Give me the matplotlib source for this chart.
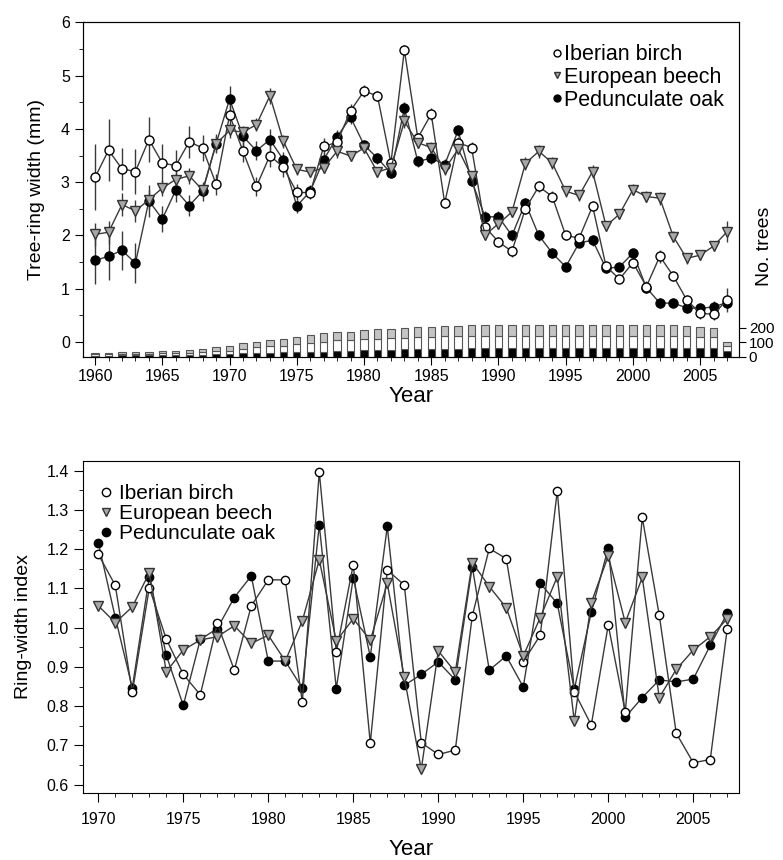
import numpy as np
import matplotlib
matplotlib.use('Agg')
import matplotlib.pyplot as plt
from matplotlib.lines import Line2D

plt.rcParams['font.family'] = ['Liberation Sans', 'DejaVu Sans']

# ---- top panel: raw ring widths (1960-2007) ----
years = np.arange(1960, 2008)

birch_rw = [3.09, 3.60, 3.25, 3.20, 3.80, 3.36, 3.31, 3.76, 3.64, 2.96,
            4.26, 3.58, 2.92, 3.50, 3.28, 2.81, 2.80, 3.67, 3.75, 4.34,
            4.71, 4.62, 3.36, 5.48, 3.83, 4.28, 2.61, 3.74, 3.65, 2.16,
            1.88, 1.70, 2.50, 2.92, 2.73, 2.00, 1.95, 2.55, 1.42, 1.18,
            1.49, 1.04, 1.61, 1.24, 0.79, 0.54, 0.52, 0.79]
beech_rw = [2.02, 2.06, 2.58, 2.46, 2.67, 2.89, 3.05, 3.12, 2.85, 3.72,
            3.97, 3.94, 4.08, 4.62, 3.77, 3.24, 3.19, 3.27, 3.58, 3.49,
            3.64, 3.19, 3.27, 4.14, 3.74, 3.65, 3.24, 3.62, 3.11, 2.01,
            2.22, 2.44, 3.35, 3.58, 3.36, 2.83, 2.75, 3.20, 2.18, 2.40,
            2.86, 2.73, 2.70, 1.98, 1.57, 1.63, 1.80, 2.07]
oak_rw = [1.53, 1.61, 1.72, 1.48, 2.65, 2.31, 2.85, 2.56, 2.83, 3.72,
          4.56, 3.86, 3.59, 3.80, 3.42, 2.55, 2.83, 3.42, 3.85, 4.22,
          3.70, 3.45, 3.17, 4.39, 3.39, 3.45, 3.33, 3.97, 3.03, 2.35,
          2.35, 2.00, 2.61, 2.00, 1.67, 1.41, 1.86, 1.91, 1.38, 1.41,
          1.67, 1.02, 0.73, 0.73, 0.64, 0.63, 0.66, 0.74]

birch_err = [0.62, 0.58, 0.40, 0.43, 0.42, 0.35, 0.30, 0.30, 0.25, 0.20,
             0.22, 0.20, 0.18, 0.22, 0.18, 0.15, 0.12, 0.15, 0.12, 0.12,
             0.12, 0.10, 0.12, 0.10, 0.10, 0.12, 0.10, 0.10, 0.10, 0.10,
             0.10, 0.10, 0.10, 0.10, 0.10, 0.08, 0.08, 0.10, 0.08, 0.08,
             0.10, 0.10, 0.12, 0.10, 0.10, 0.10, 0.10, 0.22]
beech_err = [0.22, 0.22, 0.22, 0.20, 0.18, 0.15, 0.15, 0.15, 0.12, 0.15,
             0.15, 0.12, 0.12, 0.15, 0.12, 0.10, 0.10, 0.10, 0.12, 0.10,
             0.10, 0.10, 0.10, 0.12, 0.10, 0.10, 0.10, 0.10, 0.10, 0.10,
             0.10, 0.10, 0.12, 0.12, 0.12, 0.10, 0.10, 0.12, 0.10, 0.10,
             0.10, 0.10, 0.12, 0.10, 0.10, 0.10, 0.10, 0.20]
oak_err = [0.45, 0.45, 0.37, 0.38, 0.30, 0.25, 0.22, 0.20, 0.18, 0.18,
           0.25, 0.18, 0.18, 0.20, 0.15, 0.12, 0.12, 0.12, 0.12, 0.12,
           0.10, 0.10, 0.10, 0.12, 0.10, 0.10, 0.10, 0.10, 0.10, 0.10,
           0.10, 0.10, 0.10, 0.10, 0.10, 0.08, 0.08, 0.10, 0.08, 0.08,
           0.10, 0.10, 0.10, 0.10, 0.10, 0.10, 0.10, 0.12]

# number of trees per year (stacked: oak, birch, beech)
oak_n = [9, 9, 11, 11, 12, 13, 13, 15, 16, 18,
         19, 25, 28, 30, 32, 34, 36, 37, 41, 42,
         45, 46, 48, 53, 55, 55, 57, 57, 60, 60,
         60, 60, 60, 60, 60, 60, 60, 60, 60, 60,
         60, 60, 60, 60, 60, 60, 58, 39]
birch_n = [8, 8, 10, 10, 11, 13, 13, 15, 17, 23,
           24, 28, 41, 42, 46, 52, 57, 67, 74, 75,
           78, 80, 81, 80, 83, 83, 86, 86, 85, 85,
           85, 85, 85, 85, 85, 85, 85, 85, 85, 85,
           85, 85, 85, 85, 83, 80, 76, 34]
beech_n = [8, 8, 11, 11, 14, 15, 15, 18, 22, 28,
           31, 41, 37, 41, 46, 52, 56, 61, 55, 58,
           61, 63, 66, 67, 69, 69, 73, 73, 76, 76,
           76, 76, 76, 76, 76, 76, 76, 76, 76, 76,
           76, 76, 76, 76, 73, 69, 66, 28]

# ---- bottom panel: ring-width indices (1970-2007) ----
idx_years = np.arange(1970, 2008)
birch_idx = [1.187, 1.108, 0.835, 1.102, 0.971, 0.881, 0.829, 1.011, 0.892, 1.056,
             1.122, 1.122, 0.811, 1.397, 0.938, 1.161, 0.706, 1.147, 1.109, 0.707,
             0.677, 0.688, 1.030, 1.202, 1.176, 0.913, 0.981, 1.349, 0.837, 0.752,
             1.007, 0.785, 1.281, 1.032, 0.731, 0.656, 0.664, 0.998]
beech_idx = [1.056, 1.013, 1.053, 1.140, 0.888, 0.943, 0.969, 0.977, 1.005, 0.960,
             0.981, 0.915, 1.017, 1.173, 0.966, 1.023, 0.968, 1.113, 0.874, 0.639,
             0.941, 0.887, 1.166, 1.105, 1.051, 0.928, 1.026, 1.130, 0.762, 1.064,
             1.183, 1.013, 1.128, 0.822, 0.894, 0.943, 0.977, 1.023]
oak_idx = [1.217, 1.026, 0.847, 1.130, 0.930, 0.802, 0.970, 0.998, 1.077, 1.132,
           0.915, 0.915, 0.846, 1.262, 0.845, 1.127, 0.926, 1.258, 0.853, 0.881,
           0.913, 0.867, 1.156, 0.892, 0.928, 0.849, 1.113, 1.062, 0.843, 1.039,
           1.204, 0.772, 0.822, 0.867, 0.862, 0.869, 0.955, 1.037]

labels = ['Iberian birch', 'European beech', 'Pedunculate oak']
line_col = '#3a3a3a'
grey_fill = '#a8a8a8'

fig = plt.figure(figsize=(7.83, 8.6), dpi=100)

# ===== top panel =====
ax1 = fig.add_axes([0.106, 0.585, 0.838, 0.389])
ax2 = ax1.twinx()
ax1.set_zorder(ax2.get_zorder() + 1)
ax1.patch.set_visible(False)

# tree counts as stacked bars on the right axis
bw = 0.55
ax2.bar(years, oak_n, width=bw, color='black', edgecolor='#555555', linewidth=0.8)
ax2.bar(years, birch_n, width=bw, bottom=oak_n, color='white',
        edgecolor='#555555', linewidth=0.8)
ax2.bar(years, beech_n, width=bw, bottom=np.add(oak_n, birch_n), color='#c4c4c4',
        edgecolor='#555555', linewidth=0.8)
ax2.set_ylim(0, 2305)
ax2.set_yticks([0, 100, 200])
ax2.tick_params(axis='y', direction='out', length=5, labelsize=11, pad=2)
ax2.set_ylabel('No. trees', fontsize=14)
ax2.yaxis.set_label_coords(1.025, 0.33)

ms_top = 6.5
ax1.errorbar(years, oak_rw, yerr=oak_err, fmt='-o', color=line_col, lw=1,
             elinewidth=1, capsize=0, mfc='black', mec='black', ms=ms_top)
ax1.errorbar(years, birch_rw, yerr=birch_err, fmt='-o', color=line_col, lw=1,
             elinewidth=1, capsize=0, mfc='white', mec='black', ms=ms_top)
ax1.errorbar(years, beech_rw, yerr=beech_err, fmt='-v', color=line_col, lw=1,
             elinewidth=1, capsize=0, mfc=grey_fill, mec='#333333', ms=ms_top + 0.5)

ax1.set_xlim(1959.1, 2007.9)
ax1.set_ylim(-0.28, 6.0)
ax1.set_yticks(range(0, 7))
ax1.set_yticks(np.arange(0.5, 6, 1.0), minor=True)
ax1.set_xticks(range(1960, 2006, 5))
ax1.set_xticks(years, minor=True)
ax1.tick_params(axis='both', which='major', direction='out', length=6, labelsize=11.5)
ax1.tick_params(axis='x', which='major', pad=2.5)
ax1.tick_params(axis='both', which='minor', direction='out', length=3)
ax1.set_ylabel('Tree-ring width (mm)', fontsize=14)
ax1.yaxis.set_label_coords(-0.058, 0.5)
ax1.set_xlabel('Year', fontsize=16, labelpad=1.5)

h_top = [Line2D([], [], ls='none', marker='o', mfc='white', mec='black', ms=5),
         Line2D([], [], ls='none', marker='v', mfc=grey_fill, mec='#333333', ms=5),
         Line2D([], [], ls='none', marker='o', mfc='black', mec='black', ms=5)]
ax1.legend(h_top, labels, loc='upper right', frameon=False, fontsize=15.5,
           handlelength=0.5, handletextpad=0.1, labelspacing=0.08,
           bbox_to_anchor=(1.0, 0.98), borderaxespad=0.3)

# ===== bottom panel =====
ax3 = fig.add_axes([0.106, 0.078, 0.838, 0.386])
ms_bot = 6
ax3.plot(idx_years, oak_idx, '-o', color=line_col, lw=1, mfc='black', mec='black', ms=ms_bot)
ax3.plot(idx_years, birch_idx, '-o', color=line_col, lw=1, mfc='white', mec='black', ms=ms_bot)
ax3.plot(idx_years, beech_idx, '-v', color=line_col, lw=1, mfc=grey_fill, mec='#333333',
         ms=ms_bot + 0.5)

ax3.set_xlim(1969.1, 2007.7)
ax3.set_ylim(0.579, 1.425)
ax3.set_yticks(np.arange(0.6, 1.41, 0.1))
ax3.set_yticklabels([f'{v:.1f}' for v in np.arange(0.6, 1.41, 0.1)])
ax3.set_yticks(np.arange(0.65, 1.4, 0.1), minor=True)
ax3.set_xticks(range(1970, 2006, 5))
ax3.set_xticks(idx_years, minor=True)
ax3.tick_params(axis='both', which='major', direction='out', length=6.5, labelsize=11.5)
ax3.tick_params(axis='x', which='major', pad=7)
ax3.tick_params(axis='both', which='minor', direction='out', length=3)
ax3.set_ylabel('Ring-width index', fontsize=14)
ax3.yaxis.set_label_coords(-0.078, 0.5)
ax3.set_xlabel('Year', fontsize=16, labelpad=9)

h_bot = [Line2D([], [], ls='none', marker='o', mfc='white', mec='black', ms=6),
         Line2D([], [], ls='none', marker='v', mfc=grey_fill, mec='#333333', ms=6),
         Line2D([], [], ls='none', marker='o', mfc='black', mec='black', ms=6)]
ax3.legend(h_bot, labels, loc='upper left', frameon=False, fontsize=15,
           handlelength=0.8, handletextpad=0.25, labelspacing=0.05,
           bbox_to_anchor=(0.0, 0.975), borderaxespad=0.3)

fig.savefig('out.png', dpi=100)
